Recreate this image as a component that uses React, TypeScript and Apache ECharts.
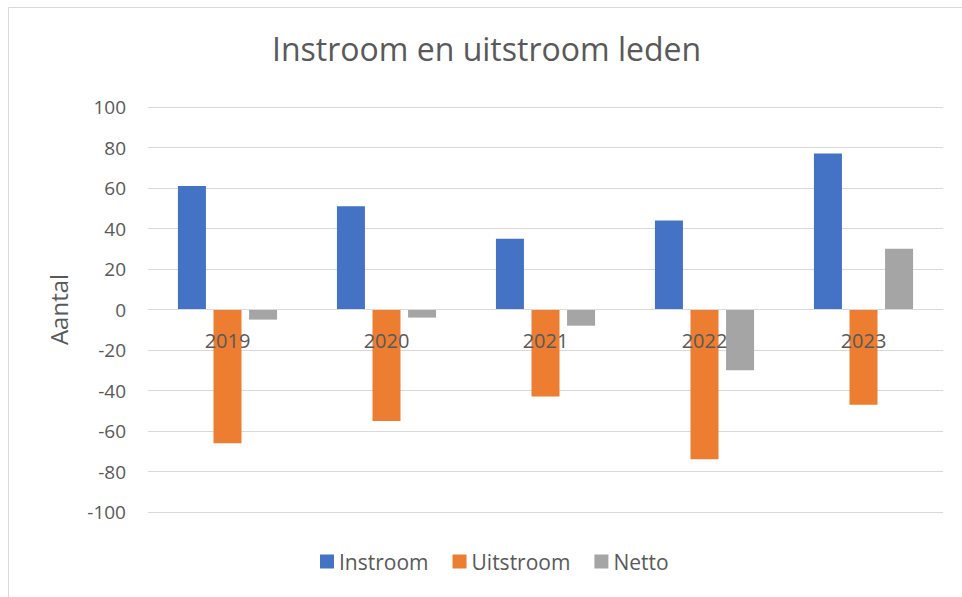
import React, { useEffect, useRef } from "react";
import * as echarts from "echarts";

const categories = ["2019", "2020", "2021", "2022", "2023"];
const instroom = [61, 51, 35, 44, 77];
const uitstroom = [-66, -55, -43, -74, -47];
const netto = [-5, -4, -8, -30, 30];
const seriesNames = ["Instroom", "Uitstroom", "Netto"];
const colors = ["#4472C4", "#ED7D31", "#A5A5A5"];

const FONT = "'Open Sans', 'Noto Sans', sans-serif";

export default function App() {
  const ref = useRef<HTMLDivElement>(null);
  useEffect(() => {
    if (!ref.current) return;
    const chart = echarts.init(ref.current, null, { renderer: "svg" });
    const data = [instroom, uitstroom, netto];
    chart.setOption({
      animation: false,
      backgroundColor: "#ffffff",
      title: {
        text: "Instroom en uitstroom leden",
        left: 272,
        top: 32,
        padding: 0,
        textStyle: { fontFamily: FONT, fontSize: 32, fontWeight: "normal", color: "#595959" },
      },
      graphic: [
        {
          type: "rect",
          shape: { x: 8.5, y: 7.5, width: 1000, height: 1000 },
          style: { fill: "none", stroke: "#d9d9d9", lineWidth: 1 },
          silent: true,
        },
      ],
      legend: {
        bottom: 20,
        left: 315,
        itemWidth: 14,
        itemHeight: 14,
        itemGap: 24,
        icon: "rect",
        textStyle: { fontFamily: FONT, fontSize: 21, color: "#595959" },
        data: seriesNames,
      },
      grid: { left: 148, right: 19, top: 107, bottom: 85, containLabel: false },
      xAxis: {
        type: "category",
        data: categories,
        axisLine: { onZero: true, lineStyle: { color: "#d9d9d9", width: 1 } },
        axisTick: { show: false },
        axisLabel: { fontFamily: FONT, fontSize: 20, color: "#595959", margin: -182 },
        z: 5,
      },
      yAxis: {
        type: "value",
        min: -100,
        max: 100,
        interval: 20,
        name: "Aantal",
        nameLocation: "middle",
        nameGap: 78,
        nameTextStyle: { fontFamily: FONT, fontSize: 24, color: "#595959" },
        axisLine: { show: false },
        axisTick: { show: false },
        axisLabel: { fontFamily: FONT, fontSize: 19, color: "#595959", margin: 22 },
        splitLine: { lineStyle: { color: "#d9d9d9", width: 1 } },
      },
      series: seriesNames.map((name, i) => ({
        name,
        type: "bar",
        data: data[i],
        barWidth: 28,
        barGap: "27%",
        itemStyle: { color: colors[i] },
        z: 1,
      })),
    });
    return () => chart.dispose();
  }, []);
  return (
    <div
      ref={ref}
      style={{ position: "fixed", left: 0, top: 0, width: 962, height: 597 }}
    />
  );
}
